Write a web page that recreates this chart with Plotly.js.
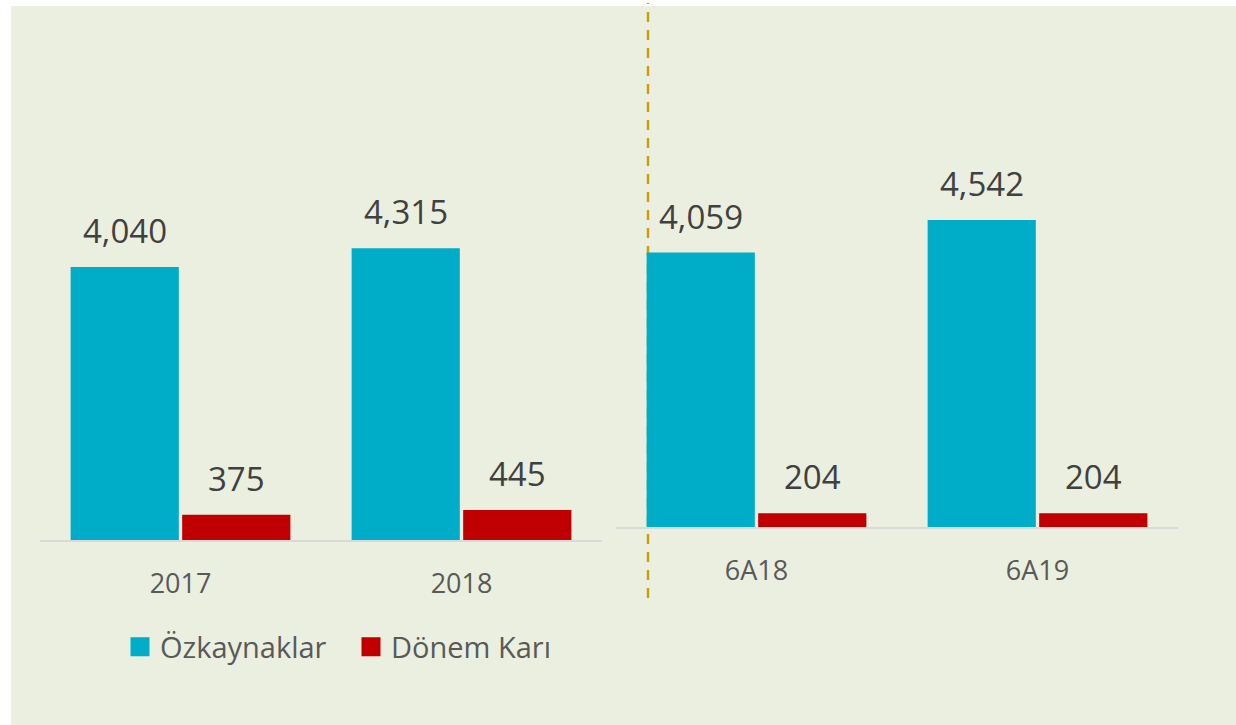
<!DOCTYPE html>
<html>
<head>
<meta charset="utf-8">
<script src="https://cdn.plot.ly/plotly-3.0.1.min.js"></script>
<style>html,body{margin:0;padding:0;background:#fff;}#chart{width:1236px;height:725px;}</style>
</head>
<body>
<div id="chart"></div>
<script>
// ---- data ----
const categoriesLeft = ['2017', '2018'];
const equityLeft = [4040, 4315];
const profitLeft = [375, 445];

const categoriesRight = ['6A18', '6A19'];
const equityRight = [4059, 4542];
const profitRight = [204, 204];

const seriesNames = ['Özkaynaklar', 'Dönem Karı'];
const seriesColors = ['#00ADC8', '#C00000'];

// ---- chart ----
const W = 1236, H = 725;
const pxPerUnit = 0.0676;
const bargap = 0.206;
const leftDom = [40, 602], rightDom = [616, 1178];
const leftBase = 540, rightBase = 527;

const labelFont = {family: 'Open Sans, sans-serif', size: 33, color: '#404040'};
const tickFont = {family: 'Open Sans, sans-serif', size: 27, color: '#595959'};

function barTrace(x, y, i, xa, ya) {
  return {
    type: 'bar', x: x, y: y, name: seriesNames[i],
    marker: {color: seriesColors[i], line: {width: 0}},
    xaxis: xa, yaxis: ya, showlegend: false,
    cliponaxis: false, hoverinfo: 'x+y'
  };
}

// legend-only entries (no drawn points) so that the key squares can be larger
function legendTrace(i) {
  return {
    type: 'scatter', mode: 'markers', x: categoriesLeft.slice(0, 1), y: [null], name: seriesNames[i],
    marker: {symbol: 'square', size: 16, color: seriesColors[i], line: {color: seriesColors[i], width: 3}},
    xaxis: 'x', yaxis: 'y', showlegend: true, hoverinfo: 'skip'
  };
}

const data = [
  barTrace(categoriesLeft, equityLeft, 0, 'x', 'y'),
  barTrace(categoriesLeft, profitLeft, 1, 'x', 'y'),
  barTrace(categoriesRight, equityRight, 0, 'x2', 'y2'),
  barTrace(categoriesRight, profitRight, 1, 'x2', 'y2'),
  legendTrace(0),
  legendTrace(1)
];

// value labels above each bar, placed through the axes (x = category index)
function labels(cats, vals, seriesIdx, xref, yref, dom) {
  const catW = (dom[1] - dom[0]) / cats.length;
  const off = (1 - bargap) * catW / 4;
  return cats.map((c, k) => ({
    x: k, y: vals[k], xref: xref, yref: yref,
    text: vals[k].toLocaleString('en-US'),
    showarrow: false, yanchor: 'bottom', xanchor: 'center',
    xshift: seriesIdx === 0 ? -off : off, yshift: 12,
    font: labelFont
  }));
}

const annotations = [].concat(
  labels(categoriesLeft, equityLeft, 0, 'x', 'y', leftDom),
  labels(categoriesLeft, profitLeft, 1, 'x', 'y', leftDom),
  labels(categoriesRight, equityRight, 0, 'x2', 'y2', rightDom),
  labels(categoriesRight, profitRight, 1, 'x2', 'y2', rightDom)
);

const layout = {
  width: W, height: H,
  margin: {l: 0, r: 0, t: 0, b: 0},
  paper_bgcolor: '#ffffff',
  plot_bgcolor: 'rgba(0,0,0,0)',
  barmode: 'group',
  bargap: bargap,
  bargroupgap: 0.03,
  showlegend: true,
  xaxis: {
    type: 'category', categoryorder: 'array', categoryarray: categoriesLeft,
    range: [-0.5, categoriesLeft.length - 0.5], autorange: false,
    domain: [leftDom[0] / W, leftDom[1] / W], anchor: 'y',
    showline: true, linecolor: '#D9D9D9', linewidth: 2,
    showgrid: false, zeroline: false, ticks: '',
    tickfont: tickFont, ticklabelstandoff: 19, fixedrange: true
  },
  yaxis: {
    domain: [(H - leftBase) / H, 1], anchor: 'x',
    range: [0, leftBase / pxPerUnit], autorange: false, visible: false, fixedrange: true
  },
  xaxis2: {
    type: 'category', categoryorder: 'array', categoryarray: categoriesRight,
    range: [-0.5, categoriesRight.length - 0.5], autorange: false,
    domain: [rightDom[0] / W, rightDom[1] / W], anchor: 'y2',
    showline: true, linecolor: '#D9D9D9', linewidth: 2,
    showgrid: false, zeroline: false, ticks: '',
    tickfont: tickFont, ticklabelstandoff: 19, fixedrange: true
  },
  yaxis2: {
    domain: [(H - rightBase) / H, 1], anchor: 'x2',
    range: [0, rightBase / pxPerUnit], autorange: false, visible: false, fixedrange: true
  },
  legend: {
    orientation: 'h', x: 120 / W, xanchor: 'left',
    y: (H - 647) / H, yanchor: 'middle',
    font: {family: 'Open Sans, sans-serif', size: 29, color: '#595959'},
    bgcolor: 'rgba(0,0,0,0)', entrywidth: 186, entrywidthmode: 'pixels',
    traceorder: 'normal'
  },
  annotations: annotations,
  shapes: [
    {type: 'rect', xref: 'paper', yref: 'paper', x0: 11 / W, x1: 1, y0: 0, y1: (H - 6) / H,
     fillcolor: '#EBEFDF', line: {width: 0}, layer: 'below'},
    {type: 'line', xref: 'paper', yref: 'paper', x0: 648 / W, x1: 648 / W,
     y0: (H - 598) / H, y1: (H - 3) / H, layer: 'below',
     line: {color: '#C9A00C', width: 2.5, dash: '10px,8px'}}
  ]
};

Plotly.newPlot('chart', data, layout, {displayModeBar: false, staticPlot: true});
</script>
</body>
</html>
